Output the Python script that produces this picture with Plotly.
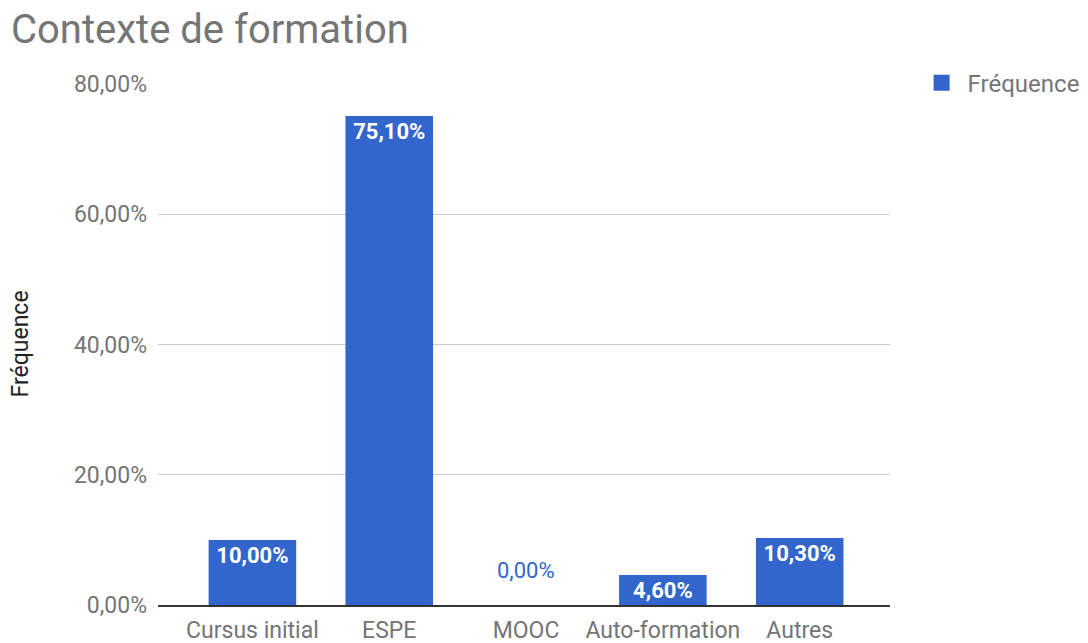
import plotly.graph_objects as go

# Chart data
categories = ["Cursus initial", "ESPE", "MOOC", "Auto-formation", "Autres"]
frequence = [0.100, 0.751, 0.000, 0.046, 0.103]
y_ticks = [0, 0.2, 0.4, 0.6, 0.8]

BLUE = "#3366cc"
GREY = "#757575"
FONT = "Roboto"

# Labels inside the bars, except for empty bars (drawn above the axis)
positions = ["inside" if v > 0 else "none" for v in frequence]

fig = go.Figure()
fig.add_trace(go.Bar(
    x=categories,
    y=frequence,
    marker=dict(color=BLUE, line=dict(width=0)),
    width=0.64,
    texttemplate="%{y:.2%}",
    textposition=positions,
    insidetextanchor="end",
    insidetextfont=dict(family=FONT, size=22, color="white", weight="bold"),
    showlegend=False,
    name="Fréquence",
))

# Legend entry with a larger square swatch
fig.add_trace(go.Scatter(
    x=[None], y=[None], mode="markers",
    marker=dict(symbol="square", size=18, color=BLUE),
    name="Fréquence",
))

for cat, v in zip(categories, frequence):
    if v == 0:
        fig.add_annotation(
            x=cat, y=v, text=f"{v * 100:.2f}%".replace(".", ","),
            showarrow=False, yshift=35,
            font=dict(family=FONT, size=22, color=BLUE),
        )

# Y axis title
fig.add_annotation(
    text="Fréquence", textangle=-90,
    xref="paper", x=-138 / 732, xanchor="center",
    yref="paper", y=0.5, yanchor="middle",
    showarrow=False,
    font=dict(family=FONT, size=23, color="#222222"),
)

# the page adds an 8px body margin, so the plot sits 8px up/left here
fig.update_layout(
    width=1088,
    height=643,
    margin=dict(l=150, r=206, t=76, b=46, autoexpand=False),
    paper_bgcolor="white",
    plot_bgcolor="white",
    separators=", ",
    font=dict(family=FONT, color=GREY),
    title=dict(
        text="Contexte de formation",
        font=dict(family=FONT, size=40, color=GREY),
        xref="container", x=3 / 1088, xanchor="left",
        yref="container", y=1 - 21 / 643, yanchor="middle",
    ),
    legend=dict(
        x=1.035, y=1.045, xanchor="left", yanchor="top",
        itemwidth=42,
        font=dict(family=FONT, size=24, color=GREY),
    ),
    uniformtext=dict(minsize=22, mode="show"),
)

fig.update_xaxes(
    range=[-0.69, 4.66],
    showline=True, linecolor="#333333", linewidth=1.5,
    showgrid=False,
    tickfont=dict(family=FONT, size=23, color=GREY),
    ticks="", ticklabelstandoff=4,
    automargin=False,
)
fig.update_yaxes(
    range=[0, 0.8],
    tickvals=y_ticks,
    tickformat=".2%",
    showgrid=True, gridcolor="#cccccc", gridwidth=1,
    zeroline=False,
    tickfont=dict(family=FONT, size=23, color=GREY),
    ticklabelstandoff=10,
    automargin=False,
)

fig.write_html("out.html")
